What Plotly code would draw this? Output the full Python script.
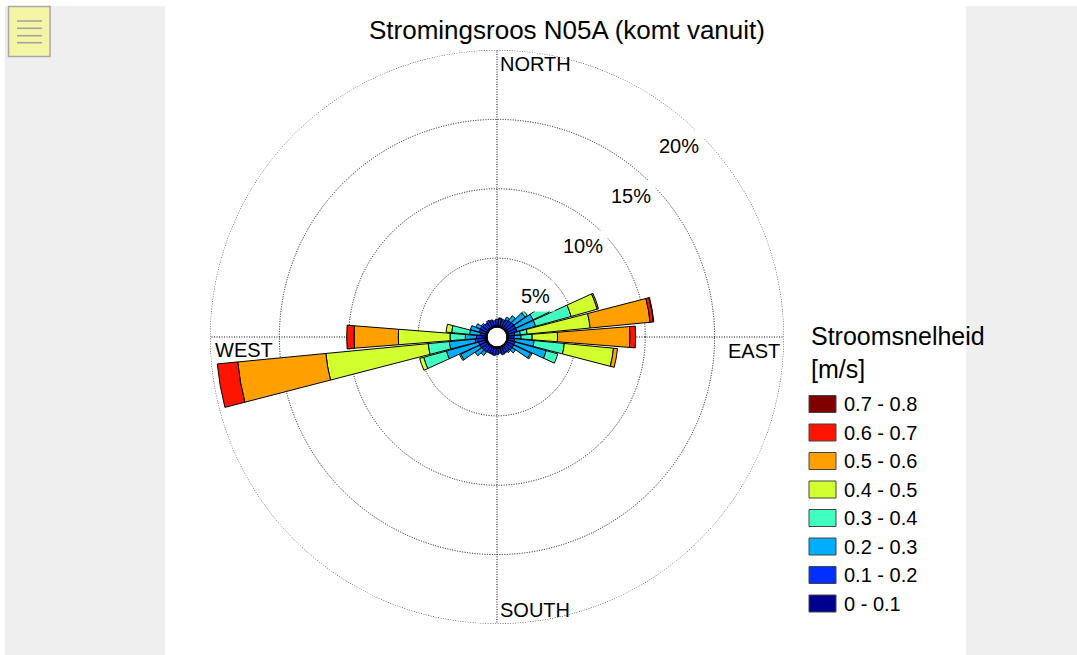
import math
import plotly.graph_objects as go

W, H = 1077, 655

# Compass directions (degrees, "coming from"), 10-degree sectors
directions = list(range(0, 360, 10))

# Current speed classes [m/s]
speed_bins = ["0 - 0.1", "0.1 - 0.2", "0.2 - 0.3", "0.3 - 0.4",
              "0.4 - 0.5", "0.5 - 0.6", "0.6 - 0.7", "0.7 - 0.8"]
bin_colors = ["#00008f", "#0030ff", "#00aeff", "#40ffc0",
              "#d2ff2e", "#ffa000", "#ff1400", "#800000"]

# Frequency (%) per direction for each speed class
freq_0_01 = [0.15, 0.15, 0.15, 0.15, 0.15, 0.2, 0.2, 0.2, 0.15, 0.15, 0.15, 0.15,
             0.15, 0.15, 0.15, 0.15, 0.15, 0.15, 0.15, 0.15, 0.15, 0.15, 0.15, 0.15,
             0.15, 0.2, 0.2, 0.2, 0.1, 0.15, 0.15, 0.15, 0.15, 0.15, 0.15, 0.15]
freq_01_02 = [0.45, 0.5, 0.4, 0.55, 0.6, 0.6, 0.6, 0.6, 0.45, 0.4, 0.45, 0.5,
              0.5, 0.5, 0.45, 0.4, 0.5, 0.35, 0.45, 0.5, 0.4, 0.45, 0.5, 0.5,
              0.55, 0.5, 0.7, 0.6, 0.45, 0.5, 0.5, 0.45, 0.4, 0.5, 0.45, 0.35]
freq_02_03 = [0.0, 0.05, 0.1, 0.2, 0.45, 1.0, 1.4, 1.4, 0.4, 0.5, 1.4, 2.35,
              1.35, 0.3, 0.1, 0.05, 0.0, 0.0, 0.0, 0.0, 0.05, 0.0, 0.3, 0.6,
              1.5, 2.4, 1.87, 0.8, 0.75, 0.65, 0.35, 0.1, 0.0, 0.0, 0.0, 0.0]
freq_03_04 = [0.0, 0.0, 0.0, 0.0, 0.0, 0.2, 1.3, 2.66, 0.5, 0.8, 2.19, 0.86,
              0.1, 0.0, 0.0, 0.0, 0.0, 0.0, 0.0, 0.0, 0.0, 0.0, 0.0, 0.0,
              0.1, 1.7, 1.53, 1.1, 1.3, 0.0, 0.0, 0.0, 0.0, 0.0, 0.0, 0.0]
freq_04_05 = [0.0, 0.0, 0.0, 0.0, 0.0, 0.0, 0.0, 1.95, 4.56, 1.83, 3.56, 0.0,
              0.0, 0.0, 0.0, 0.0, 0.0, 0.0, 0.0, 0.0, 0.0, 0.0, 0.0, 0.0,
              0.0, 0.3, 7.41, 3.73, 0.4, 0.0, 0.0, 0.0, 0.0, 0.0, 0.0, 0.0]
freq_05_06 = [0.0, 0.0, 0.0, 0.0, 0.0, 0.0, 0.0, 0.1, 4.34, 5.22, 0.29, 0.0,
              0.0, 0.0, 0.0, 0.0, 0.0, 0.0, 0.0, 0.0, 0.0, 0.0, 0.0, 0.0,
              0.0, 0.0, 6.38, 3.19, 0.0, 0.0, 0.0, 0.0, 0.0, 0.0, 0.0, 0.0]
freq_06_07 = [0.0, 0.0, 0.0, 0.0, 0.0, 0.0, 0.0, 0.0, 0.23, 0.41, 0.0, 0.0,
              0.0, 0.0, 0.0, 0.0, 0.0, 0.0, 0.0, 0.0, 0.0, 0.0, 0.0, 0.0,
              0.0, 0.0, 1.48, 0.53, 0.0, 0.0, 0.0, 0.0, 0.0, 0.0, 0.0, 0.0]
freq_07_08 = [0.0, 0.0, 0.0, 0.0, 0.0, 0.0, 0.0, 0.0, 0.04, 0.0, 0.0, 0.0,
              0.0, 0.0, 0.0, 0.0, 0.0, 0.0, 0.0, 0.0, 0.0, 0.0, 0.0, 0.0,
              0.0, 0.0, 0.0, 0.0, 0.0, 0.0, 0.0, 0.0, 0.0, 0.0, 0.0, 0.0]

freq_by_bin = [freq_0_01, freq_01_02, freq_02_03, freq_03_04,
               freq_04_05, freq_05_06, freq_06_07, freq_07_08]

radial_ticks = [5, 10, 15, 20]
radial_tick_text = ["5%", "10%", "15%", "20%"]
cardinal_names = ["NORTH", "EAST", "SOUTH", "WEST"]

FONT = "Liberation Sans, Arial, sans-serif"

# Layout geometry (pixels)
CX, CY, R = 497, 337, 287
HOLE_PX = 9.5
R_MAX = radial_ticks[-1]
DOTS = "1px,1.5px"
GRID_COLOR = "#111111"


def px(x):
    return x / W


def py(y):
    return 1 - y / H


fig = go.Figure()

# outer grid circle (the last tick sits on the edge of the radial range)
ring_theta = [i * 2 for i in range(181)]
fig.add_trace(go.Scatterpolar(
    r=[R_MAX] * len(ring_theta), theta=ring_theta, mode="lines",
    line=dict(color=GRID_COLOR, width=1, dash=DOTS),
    showlegend=False, hoverinfo="skip",
))

for name, color, vals in zip(speed_bins, bin_colors, freq_by_bin):
    fig.add_trace(go.Barpolar(
        r=vals, theta=directions, width=9, name=name,
        marker=dict(color=color, line=dict(color="black", width=1)),
        showlegend=False, hoverinfo="skip",
    ))

# outline of the central hole
fig.add_trace(go.Scatterpolar(
    r=[0] * 73, theta=[i * 5 for i in range(73)], mode="lines",
    line=dict(color="black", width=1.5), showlegend=False, hoverinfo="skip",
))

grid = dict(gridcolor=GRID_COLOR, griddash=DOTS, gridwidth=1)

fig.update_layout(
    width=W, height=H,
    margin=dict(l=0, r=0, t=0, b=0),
    paper_bgcolor="white",
    font=dict(family=FONT, size=20, color="black"),
    polar=dict(
        domain=dict(x=[px(CX - R), px(CX + R)], y=[py(CY + R), py(CY - R)]),
        bgcolor="white",
        hole=HOLE_PX / R,
        barmode="stack",
        radialaxis=dict(range=[0, R_MAX], tickvals=radial_ticks, showticklabels=False,
                        ticks="", showline=False, layer="below traces", **grid),
        angularaxis=dict(rotation=90, direction="clockwise", tickvals=[0, 90, 180, 270],
                         showticklabels=False, ticks="", showline=False,
                         layer="below traces", **grid),
    ),
)

shapes = []
# grey side panels
shapes.append(dict(type="rect", xref="paper", yref="paper", layer="below",
                   x0=px(5), x1=px(165), y0=py(655), y1=py(6),
                   fillcolor="#efefef", line=dict(width=0)))
shapes.append(dict(type="rect", xref="paper", yref="paper", layer="below",
                   x0=px(966), x1=px(1077), y0=py(655), y1=py(6),
                   fillcolor="#efefef", line=dict(width=0)))
# menu button
shapes.append(dict(type="rect", xref="paper", yref="paper",
                   x0=px(8.5), x1=px(50), y0=py(56.5), y1=py(6.5),
                   fillcolor="#f5f5a6", line=dict(color="#a8a8a8", width=1.5)))
for ly in [21, 28.3, 35.7, 42.7]:
    shapes.append(dict(type="line", xref="paper", yref="paper",
                       x0=px(17), x1=px(42), y0=py(ly), y1=py(ly),
                       line=dict(color="#a0a0a0", width=1.5)))

annotations = []
annotations.append(dict(text="Stromingsroos N05A (komt vanuit)", x=px(567), y=py(30),
                        xref="paper", yref="paper", xanchor="center", yanchor="middle",
                        showarrow=False, font=dict(size=26)))

# radial labels with white boxes
ang = math.radians(46.5)
for v, t in zip(radial_ticks, radial_tick_text):
    rp = HOLE_PX + (R - HOLE_PX) * v / R_MAX - 23
    annotations.append(dict(text=t, x=px(CX + rp * math.cos(ang)), y=py(CY - rp * math.sin(ang)),
                            xref="paper", yref="paper", xanchor="center", yanchor="middle",
                            showarrow=False, bgcolor="white", borderpad=4,
                            font=dict(size=20)))

# compass labels
card_pos = {"NORTH": (CX + 1, CY - R + 14, "left"),
            "EAST": (CX + R - 2, CY + 14, "right"),
            "SOUTH": (CX + 1, CY + R - 14, "left"),
            "WEST": (CX - R + 3, CY + 13, "left")}
for nm in cardinal_names:
    x, y, anc = card_pos[nm]
    annotations.append(dict(text=nm, x=px(x), y=py(y), xref="paper", yref="paper",
                            xanchor=anc, yanchor="middle", showarrow=False,
                            font=dict(size=20)))

# legend
annotations.append(dict(text="Stroomsnelheid", x=px(809), y=py(336), xref="paper", yref="paper",
                        xanchor="left", yanchor="middle", showarrow=False, font=dict(size=25)))
annotations.append(dict(text="[m/s]", x=px(809), y=py(369), xref="paper", yref="paper",
                        xanchor="left", yanchor="middle", showarrow=False, font=dict(size=25)))
row0, row_step = 404, 28.5
for i, (name, color) in enumerate(zip(reversed(speed_bins), reversed(bin_colors))):
    yc = row0 + i * row_step
    shapes.append(dict(type="rect", xref="paper", yref="paper",
                       x0=px(809), x1=px(836), y0=py(yc + 8.5), y1=py(yc - 8.5),
                       fillcolor=color, line=dict(color="#444444", width=1)))
    annotations.append(dict(text=name, x=px(842), y=py(yc), xref="paper", yref="paper",
                            xanchor="left", yanchor="middle", showarrow=False,
                            font=dict(size=20)))

fig.update_layout(shapes=shapes, annotations=annotations)
fig.write_html("out.html")
